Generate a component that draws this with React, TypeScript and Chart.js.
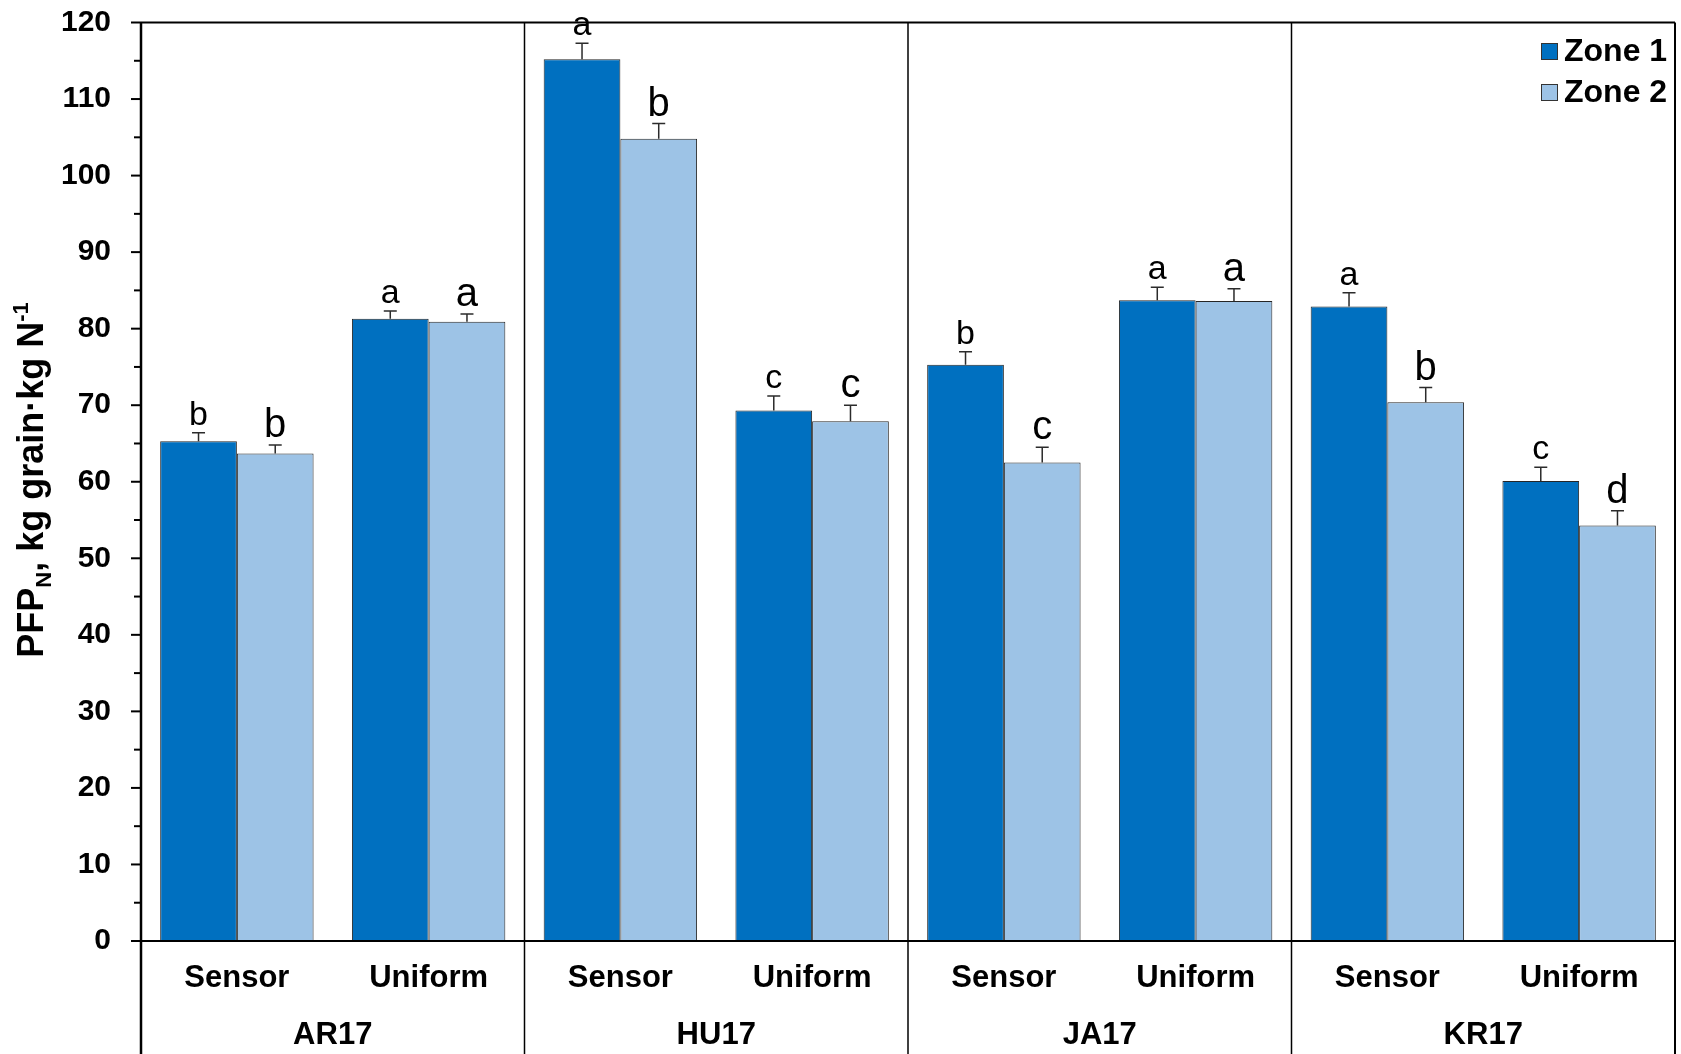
import React, { useEffect, useRef } from 'react';
import { Chart, registerables } from 'chart.js';

Chart.register(...registerables);

const categories = ['Sensor', 'Uniform', 'Sensor', 'Uniform', 'Sensor', 'Uniform', 'Sensor', 'Uniform'];
const sites = ['AR17', 'HU17', 'JA17', 'KR17'];
const seriesNames = ['Zone 1', 'Zone 2'];
const zone1 = [65.3, 81.3, 115.2, 69.3, 75.3, 83.7, 82.9, 60.1];
const zone2 = [63.7, 80.9, 104.8, 67.9, 62.5, 83.6, 70.4, 54.3];
const zone1Err = [1.1, 1.0, 2.1, 1.9, 1.7, 1.7, 1.8, 1.8];
const zone2Err = [1.1, 1.0, 2.0, 2.1, 2.0, 1.6, 1.9, 1.9];
const zone1Letters = ['b', 'a', 'a', 'c', 'b', 'a', 'a', 'c'];
const zone2Letters = ['b', 'a', 'b', 'c', 'c', 'a', 'b', 'd'];
const yMin = 0;
const yMax = 120;
const yStep = 10;
const yMinorStep = 5;

const colors = ['#0070C0', '#9DC3E6'];
const FONT = "'Liberation Sans', Arial, sans-serif";

const overlayPlugin = {
  id: 'overlay',
  afterDatasetsDraw(chart: any) {
    const ctx = chart.ctx;
    const y = chart.scales.y;
    const sets = [
      { vals: zone1, errs: zone1Err, letters: zone1Letters, font: `34px ${FONT}` },
      { vals: zone2, errs: zone2Err, letters: zone2Letters, font: `40px ${FONT}` },
    ];
    ctx.save();
    sets.forEach((s, di) => {
      const meta = chart.getDatasetMeta(di);
      meta.data.forEach((bar: any, i: number) => {
        const bx = bar.x;
        const yTop = y.getPixelForValue(s.vals[i]);
        const yErr = y.getPixelForValue(s.vals[i] + s.errs[i]);
        ctx.strokeStyle = '#2b2b2b';
        ctx.lineWidth = 1.5;
        ctx.beginPath();
        ctx.moveTo(bx, yTop);
        ctx.lineTo(bx, yErr);
        ctx.moveTo(bx - 6.5, yErr);
        ctx.lineTo(bx + 6.5, yErr);
        ctx.stroke();
        ctx.fillStyle = '#000';
        ctx.font = s.font;
        ctx.textAlign = 'center';
        ctx.textBaseline = 'alphabetic';
        ctx.fillText(s.letters[i], bx, yErr - 8);
      });
    });
    ctx.restore();
  },
  afterDraw(chart: any) {
    const ctx = chart.ctx;
    const { top, bottom, left, right } = chart.chartArea;
    const x = chart.scales.x;
    const y = chart.scales.y;
    const H = chart.height;
    ctx.save();
    ctx.strokeStyle = '#000';
    ctx.lineWidth = 2;
    ctx.beginPath();
    ctx.moveTo(left, top);
    ctx.lineTo(right, top);
    ctx.stroke();
    ctx.beginPath();
    ctx.moveTo(left - 10, bottom);
    ctx.lineTo(right, bottom);
    ctx.stroke();
    ctx.lineWidth = 2.5;
    ctx.beginPath();
    ctx.moveTo(left, top);
    ctx.lineTo(left, H);
    ctx.stroke();
    ctx.lineWidth = 2;
    ctx.beginPath();
    ctx.moveTo(right, top);
    ctx.lineTo(right, H);
    ctx.stroke();
    ctx.lineWidth = 1.5;
    for (let g = 1; g < sites.length; g++) {
      const sx = (x.getPixelForValue(2 * g - 1) + x.getPixelForValue(2 * g)) / 2;
      ctx.beginPath();
      ctx.moveTo(sx, top);
      ctx.lineTo(sx, H);
      ctx.stroke();
    }
    ctx.lineWidth = 2;
    for (let v = yMin; v <= yMax; v += yMinorStep) {
      const py = y.getPixelForValue(v);
      const len = v % yStep === 0 ? 10 : 7;
      ctx.beginPath();
      ctx.moveTo(left - len, py);
      ctx.lineTo(left, py);
      ctx.stroke();
    }
    ctx.fillStyle = '#000';
    ctx.font = `bold 31px ${FONT}`;
    ctx.textAlign = 'center';
    ctx.textBaseline = 'middle';
    sites.forEach((s, g) => {
      const cx = (x.getPixelForValue(2 * g) + x.getPixelForValue(2 * g + 1)) / 2;
      ctx.fillText(s, cx, 1035);
    });
    const segs = [
      { t: 'PFP', size: 36, dy: 0 },
      { t: 'N', size: 22, dy: 8 },
      { t: ', kg grain\u00B7kg N', size: 36, dy: 0 },
      { t: '-1', size: 22, dy: -15 },
    ];
    let total = 0;
    segs.forEach((s) => {
      ctx.font = `bold ${s.size}px ${FONT}`;
      total += ctx.measureText(s.t).width;
    });
    ctx.translate(43, 480);
    ctx.rotate(-Math.PI / 2);
    ctx.textAlign = 'left';
    ctx.textBaseline = 'alphabetic';
    let cx = -total / 2;
    segs.forEach((s) => {
      ctx.font = `bold ${s.size}px ${FONT}`;
      ctx.fillText(s.t, cx, s.dy);
      cx += ctx.measureText(s.t).width;
    });
    ctx.restore();
    ctx.save();
    const legendRows = [51.5, 92.5];
    seriesNames.forEach((name, i) => {
      const cy = legendRows[i];
      ctx.fillStyle = colors[i];
      ctx.fillRect(1541, cy - 8.5, 17, 17);
      ctx.strokeStyle = '#333';
      ctx.lineWidth = 1;
      ctx.strokeRect(1541.5, cy - 8, 16, 16);
      ctx.fillStyle = '#000';
      ctx.font = `bold 32px ${FONT}`;
      ctx.textAlign = 'left';
      ctx.textBaseline = 'middle';
      ctx.fillText(name, 1564, cy + 1);
    });
    ctx.restore();
  },
};

export default function App() {
  const canvasRef = useRef<HTMLCanvasElement | null>(null);

  useEffect(() => {
    if (!canvasRef.current) return;
    const chart = new Chart(canvasRef.current, {
      type: 'bar',
      data: {
        labels: categories,
        datasets: [
          {
            label: seriesNames[0],
            data: zone1,
            backgroundColor: colors[0],
            borderColor: '#262626',
            borderWidth: 1,
            categoryPercentage: 0.8,
            barPercentage: 1,
          },
          {
            label: seriesNames[1],
            data: zone2,
            backgroundColor: colors[1],
            borderColor: '#262626',
            borderWidth: 1,
            categoryPercentage: 0.8,
            barPercentage: 1,
          },
        ],
      },
      options: {
        animation: false,
        responsive: true,
        maintainAspectRatio: false,
        layout: { padding: { top: 22.5, right: 6, left: 0, bottom: 0 } },
        plugins: {
          legend: { display: false },
          tooltip: { enabled: false },
          title: { display: false },
        },
        scales: {
          x: {
            type: 'category',
            grid: { display: false, drawTicks: false },
            border: { display: false },
            ticks: {
              color: '#000',
              font: { family: FONT, size: 31, weight: 'bold' },
              padding: 19,
              maxRotation: 0,
              autoSkip: false,
            },
            afterFit: (s: any) => {
              s.height = 113;
              s.paddingLeft = 0;
              s.paddingRight = 0;
            },
          },
          y: {
            min: yMin,
            max: yMax,
            grid: { display: false, drawTicks: false },
            border: { display: false },
            ticks: {
              stepSize: yStep,
              color: '#000',
              font: { family: FONT, size: 30, weight: 'bold' },
              padding: 30,
            },
            afterFit: (s: any) => {
              s.width = 141;
              s.paddingTop = 0;
              s.paddingBottom = 0;
            },
          },
        },
      },
      plugins: [overlayPlugin],
    });
    return () => chart.destroy();
  }, []);

  return (
    <div style={{ position: 'absolute', left: 0, top: 0, width: 1681, height: 1054, background: '#fff' }}>
      <canvas ref={canvasRef} />
    </div>
  );
}
